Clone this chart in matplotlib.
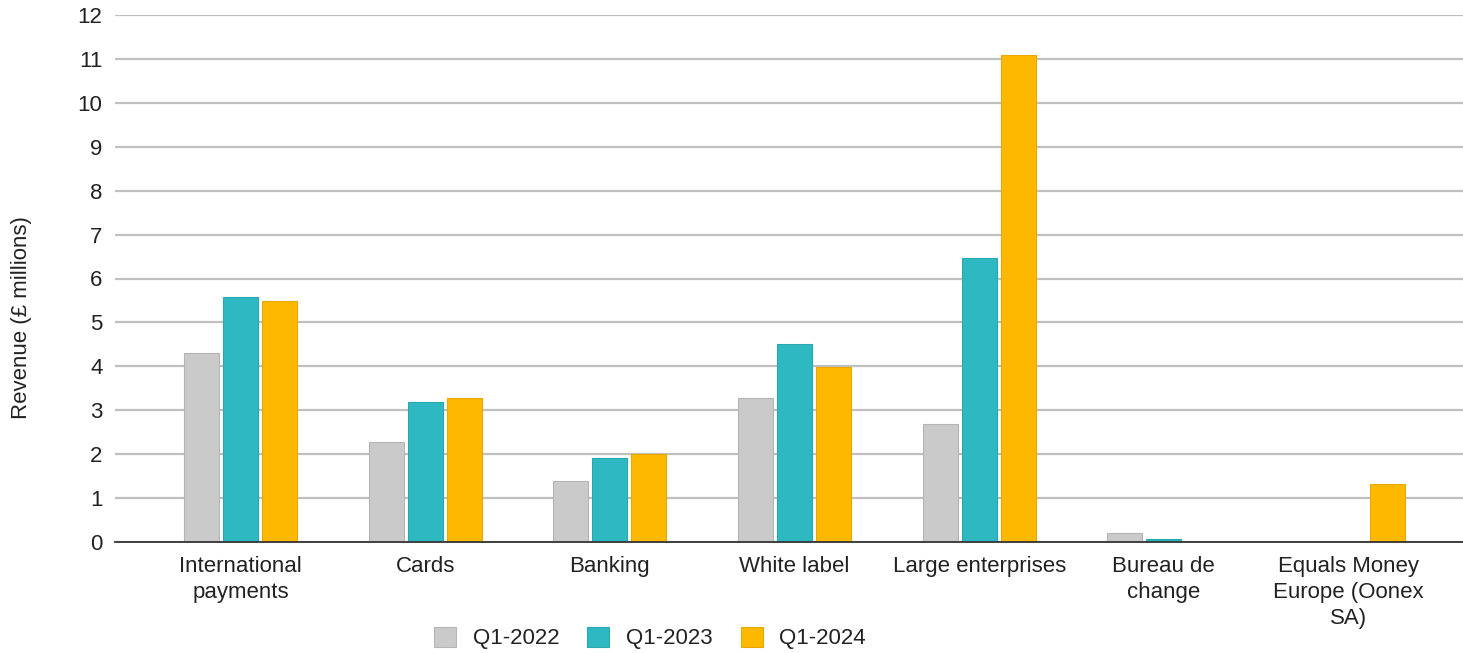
import matplotlib
matplotlib.use("Agg")
import matplotlib.pyplot as plt
import numpy as np

categories = ["International\npayments", "Cards", "Banking", "White label",
              "Large enterprises", "Bureau de\nchange", "Equals Money\nEurope (Oonex\nSA)"]
series_names = ["Q1-2022", "Q1-2023", "Q1-2024"]
q1_2022 = [4.3, 2.28, 1.39, 3.28, 2.69, 0.2, 0.0]
q1_2023 = [5.58, 3.19, 1.91, 4.51, 6.47, 0.07, 0.0]
q1_2024 = [5.49, 3.28, 2.0, 3.99, 11.09, 0.0, 1.32]
yticks = list(range(0, 13))

colors = ["#cacaca", "#2eb8c1", "#ffb800"]
edges = ["#b5b5b5", "#2aa8b0", "#e8a800"]

plt.rcParams['font.family'] = ['Liberation Sans', 'DejaVu Sans']
FS = 16

fig = plt.figure(figsize=(14.63, 6.53), dpi=100)
ax = fig.add_axes([115/1463, 1-542/653, 1-115/1463, (542-15)/653])

x = np.arange(len(categories))
width = 0.19
offset = 0.211
series = [q1_2022, q1_2023, q1_2024]
for k, (vals, name) in enumerate(zip(series, series_names)):
    v = np.array(vals)
    ax.bar(x + (k-1)*offset, v, width, color=colors[k], edgecolor=edges[k],
           linewidth=0.8, label=name, zorder=3)

ax.set_ylim(0, 12)
ax.set_xlim(-0.679, 6.62)
ax.set_yticks(yticks)
ax.set_yticklabels([str(t) for t in yticks], fontsize=FS, color="#222222")
ax.set_xticks(x)
ax.set_xticklabels(categories, fontsize=FS, color="#222222", linespacing=1.32)
ax.tick_params(axis='both', length=0)
ax.tick_params(axis='y', pad=9)
ax.tick_params(axis='x', pad=10)
ax.yaxis.grid(True, color="#c0c0c0", linewidth=1.6, zorder=0)
ax.set_axisbelow(True)
for s in ["top", "right", "left"]:
    ax.spines[s].set_visible(False)
ax.spines["bottom"].set_color("#333333")
ax.spines["bottom"].set_linewidth(1.3)
ax.spines["bottom"].set_zorder(4)

fig.text(22/1463, 1-318/653, "Revenue (£ millions)", rotation=90, va="center", ha="center",
         fontsize=FS, color="#222222")

handles, labels = ax.get_legend_handles_labels()
leg = fig.legend(handles, labels, loc="center", bbox_to_anchor=(650/1463, 1-638/653), ncol=3,
                 frameon=False, fontsize=FS, handlelength=1.0, handleheight=1.0,
                 columnspacing=1.25, handletextpad=0.75)
for t in leg.get_texts():
    t.set_color("#222222")

fig.savefig("out.png", dpi=100)
